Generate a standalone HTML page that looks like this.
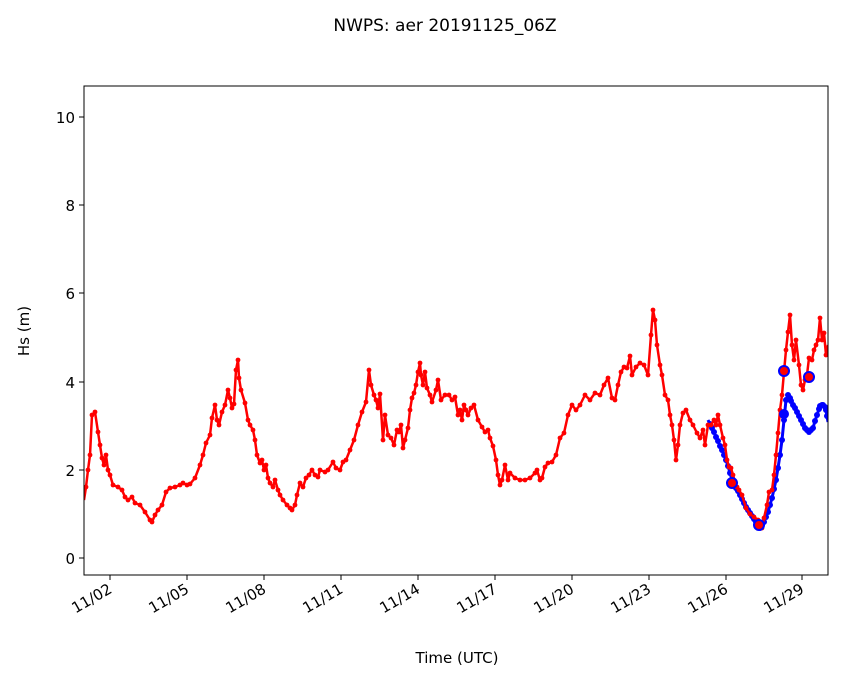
<!DOCTYPE html>
<html><head><meta charset="utf-8"><style>
html,body{margin:0;padding:0;background:#fff;}
svg{display:block;font-family:"DejaVu Sans","Liberation Sans",sans-serif;}
</style></head><body>
<svg width="846" height="681" viewBox="0 0 846 681" xmlns="http://www.w3.org/2000/svg">
<rect width="846" height="681" fill="#fff"/>
<text x="445" y="31" font-size="17" text-anchor="middle">NWPS: aer 20191125_06Z</text>
<defs><clipPath id="c"><rect x="84" y="86" width="744" height="489"/></clipPath>
<marker id="mr" markerWidth="6" markerHeight="6" refX="3" refY="3" markerUnits="userSpaceOnUse"><circle cx="3" cy="3" r="2.4" fill="#ff0000"/></marker>
<marker id="mb" markerWidth="8" markerHeight="8" refX="4" refY="4" markerUnits="userSpaceOnUse"><circle cx="4" cy="4" r="3" fill="#0000ff"/></marker>
</defs>
<g clip-path="url(#c)">
<polyline fill="none" stroke="#0000ff" stroke-width="3" stroke-linejoin="round" marker-mid="url(#mb)" points="708,420 710,424 712,428 714,432 716,437 718,441 720,446 722,450 724,455 726,460 728,466 730,473 732,480 734,484 736,488 738,491 740,495 742,499 744,503 746,507 748,510 750,513 752,516 754,519 756,522 758,525 760,528 762,525 764,522 766,517 768,512 770,505 772,498 774,489 776,480 778,468 780,455 782,440 784,420 786,400 788,395 790,398 791,401 793,405 795,408 797,412 799,416 801,420 803,424 805,428 807,430 809,432 811,430 813,428 815,421 817,415 819,409 820,406 822,405 823,405 825,407 826,410 827,416 828,422"/>
<polyline fill="none" stroke="#ff0000" stroke-width="2.5" stroke-linejoin="round" marker-mid="url(#mr)" points="84,500 86,487 88,470 90,455 92,415 95,412 98,432 100,445 102,458 104,465 106,455 108,470 110,475 113,485 118,487 122,490 125,497 128,500 132,497 135,503 140,505 145,512 150,520 152,522 155,515 158,510 162,505 166,492 170,488 175,487 180,485 183,483 187,485 190,484 195,478 200,465 203,455 206,443 210,435 212,418 215,405 217,420 219,425 222,412 225,405 228,390 230,398 232,408 234,404 236,370 238,360 239,378 241,390 245,403 248,420 250,425 253,430 255,440 257,455 260,463 262,460 264,470 266,465 268,478 270,483 273,487 275,480 278,490 280,495 283,500 287,505 290,508 292,510 295,505 297,495 300,483 303,487 306,478 309,475 312,470 315,475 318,477 320,470 325,472 328,470 333,462 336,468 340,470 343,462 346,460 350,450 354,440 358,425 362,412 366,402 369,370 371,385 374,395 376,400 378,408 380,394 383,440 385,415 388,435 391,438 394,445 397,430 399,432 401,425 403,448 405,440 408,428 410,410 412,398 414,393 416,385 418,372 420,363 421,375 423,385 425,372 427,388 430,395 432,402 436,390 438,380 441,400 445,395 449,395 452,400 455,397 458,415 460,410 462,420 464,405 466,410 468,415 471,408 474,405 478,420 482,427 485,432 488,430 490,438 493,446 496,460 498,475 500,485 502,480 505,465 508,480 510,473 515,478 520,480 525,480 530,478 535,473 537,470 540,480 542,478 545,467 548,463 552,462 556,455 560,438 564,433 568,415 572,405 576,410 580,405 585,395 590,400 595,393 600,395 604,385 608,378 612,398 615,400 618,385 621,372 624,367 627,368 630,356 632,375 636,367 640,363 644,365 648,375 651,335 653,310 655,320 657,345 660,365 662,375 665,395 668,400 670,415 672,425 674,440 676,460 678,445 680,425 683,413 686,410 690,420 693,425 697,433 700,438 703,430 705,445 708,425 711,425 714,420 716,425 718,415 720,425 723,438 725,445 727,460 729,467 731,468 733,475 735,482 737,487 739,490 742,495 746,508 750,514 754,517 758,520 760,527 762,528 764,518 767,505 769,492 772,490 774,475 776,455 778,433 780,410 782,395 784,372 786,350 788,332 790,315 792,345 794,360 796,340 799,365 801,385 803,390 805,380 807,375 809,358 812,360 814,350 816,345 818,340 820,318 822,340 824,333 826,355 828,345"/>
<g fill="#ff0000" stroke="#0000ff" stroke-width="2">
<circle cx="732" cy="483" r="5"/><circle cx="759" cy="525" r="5"/><circle cx="784" cy="371" r="5"/><circle cx="809" cy="377" r="5"/>
</g>
<circle cx="784" cy="414" r="5" fill="#0000ff"/>
</g>
<rect x="84" y="86" width="744" height="489" fill="none" stroke="#000" stroke-width="1"/>
<g stroke="#000" stroke-width="1">
<line x1="79" y1="558" x2="84" y2="558"/><line x1="79" y1="470" x2="84" y2="470"/><line x1="79" y1="382" x2="84" y2="382"/><line x1="79" y1="293" x2="84" y2="293"/><line x1="79" y1="205" x2="84" y2="205"/><line x1="79" y1="117" x2="84" y2="117"/>
<line x1="110" y1="575" x2="110" y2="580"/><line x1="187" y1="575" x2="187" y2="580"/><line x1="264" y1="575" x2="264" y2="580"/><line x1="341" y1="575" x2="341" y2="580"/><line x1="418" y1="575" x2="418" y2="580"/><line x1="495" y1="575" x2="495" y2="580"/><line x1="572" y1="575" x2="572" y2="580"/><line x1="649" y1="575" x2="649" y2="580"/><line x1="726" y1="575" x2="726" y2="580"/><line x1="802" y1="575" x2="802" y2="580"/>
</g>
<g font-size="15" text-anchor="end">
<text x="75" y="564">0</text><text x="75" y="476">2</text><text x="75" y="388">4</text><text x="75" y="299">6</text><text x="75" y="211">8</text><text x="75" y="123">10</text>
</g>
<g font-size="15" text-anchor="end">
<text transform="translate(113,592) rotate(-30)">11/02</text>
<text transform="translate(190,592) rotate(-30)">11/05</text>
<text transform="translate(267,592) rotate(-30)">11/08</text>
<text transform="translate(344,592) rotate(-30)">11/11</text>
<text transform="translate(421,592) rotate(-30)">11/14</text>
<text transform="translate(498,592) rotate(-30)">11/17</text>
<text transform="translate(575,592) rotate(-30)">11/20</text>
<text transform="translate(652,592) rotate(-30)">11/23</text>
<text transform="translate(729,592) rotate(-30)">11/26</text>
<text transform="translate(805,592) rotate(-30)">11/29</text>
</g>
<text x="457" y="663" font-size="15" text-anchor="middle">Time (UTC)</text>
<text transform="translate(29,331) rotate(-90)" font-size="15" text-anchor="middle">Hs (m)</text>
</svg>
</body></html>
